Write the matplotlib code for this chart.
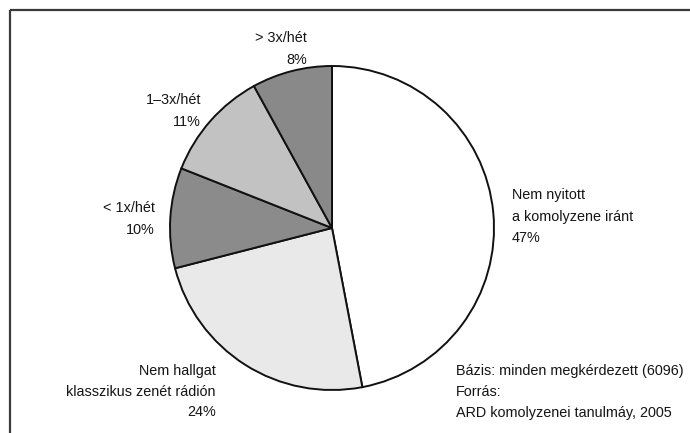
import matplotlib
matplotlib.use("Agg")
import matplotlib.pyplot as plt

plt.rcParams['font.family'] = ['Liberation Sans', 'DejaVu Sans']

# data, clockwise from 12 o'clock
categories = ["Nem nyitott\na komolyzene iránt",
              "Nem hallgat\nklasszikus zenét rádión",
              "< 1x/hét",
              "1–3x/hét",
              "> 3x/hét"]
values = [47, 24, 10, 11, 8]
colors = ["#ffffff", "#e9e9e9", "#8b8b8b", "#c2c2c2", "#898989"]
source_lines = ["Bázis: minden megkérdezett (6096)",
                "Forrás:",
                "ARD komolyzenei tanulmáy, 2005"]

W, H = 690, 433
fig = plt.figure(figsize=(W / 100, H / 100), dpi=100)
ax = fig.add_axes([0, 0, 1, 1])

cx, cy, r = 332, H - 228, 162
ax.pie(values, colors=colors, startangle=90, counterclock=False,
       center=(cx, cy), radius=r,
       wedgeprops=dict(edgecolor="#111111", linewidth=1.4))
ax.set_xlim(0, W)
ax.set_ylim(0, H)
ax.set_aspect("equal")
ax.axis("off")

# frame: only top and left are visible (cropped scan)
ax.plot([10, W], [H - 10, H - 10], color="#3a3a3a", lw=1.6, solid_capstyle="butt")
ax.plot([10, 10], [H - 10, 0], color="#3a3a3a", lw=1.6, solid_capstyle="butt")

# label anchors: (x, y of first line, alignment)
anchors = [(512, 194, "left"),
           (216, 369, "right"),
           (155, 207, "right"),
           (201, 99, "right"),
           (307, 37, "right")]
step = 21
fs = 10.4

for cat, val, (x, y, ha) in zip(categories, values, anchors):
    lines = cat.split("\n") + [f"{val}%"]
    for i, line in enumerate(lines):
        ax.text(x, H - (y + i * step) - 5.5, line, ha=ha, va="baseline",
                fontsize=fs, color="#151515")

for i, line in enumerate(source_lines):
    ax.text(456, H - (369 + i * step) - 5.5, line, ha="left", va="baseline",
            fontsize=fs, color="#151515")

fig.savefig("out.png", dpi=100)
